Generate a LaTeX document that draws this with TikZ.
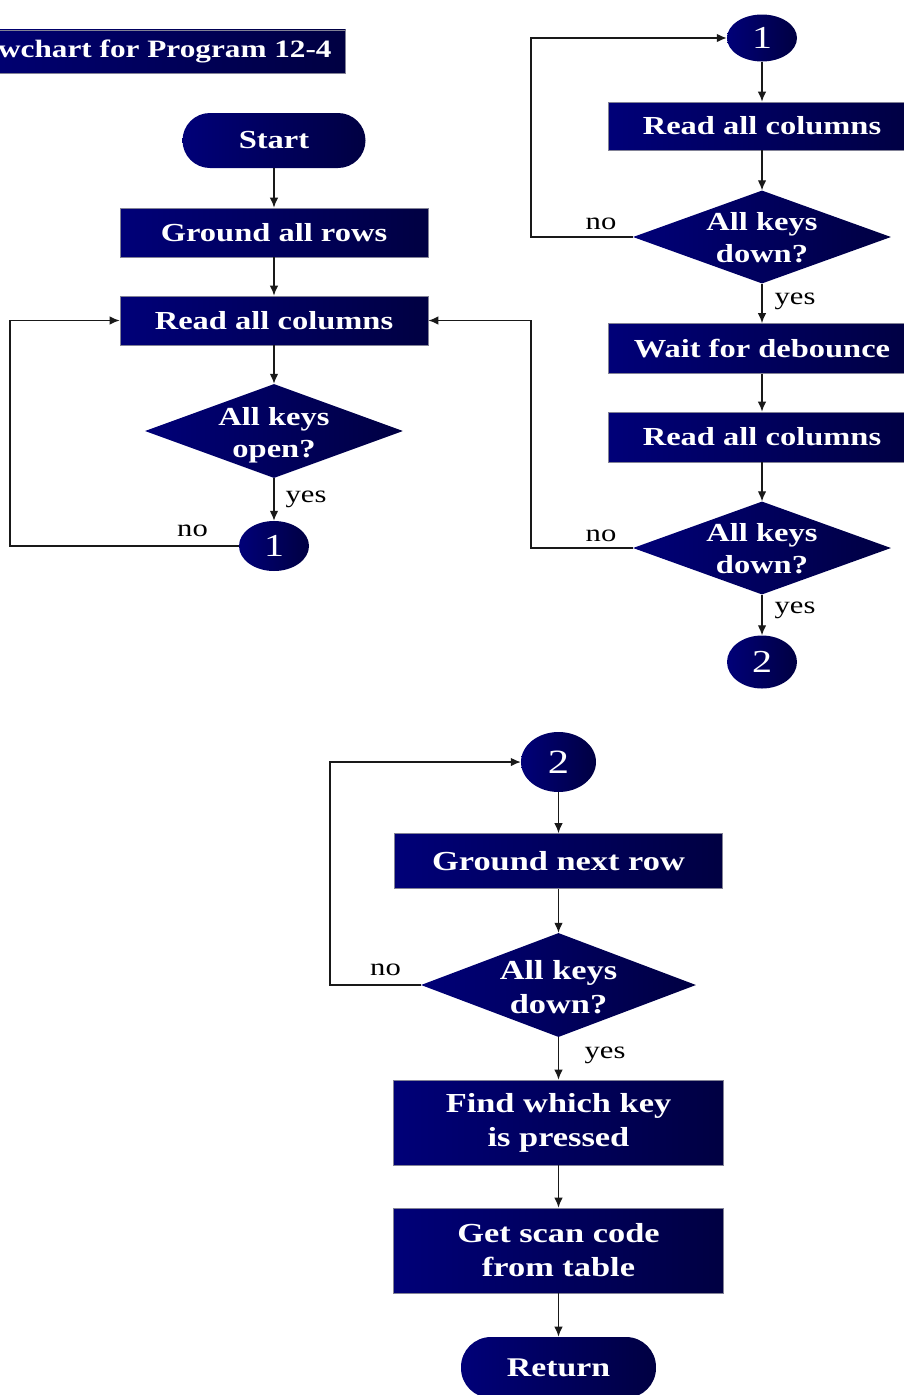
\documentclass[tikz,border=0pt]{standalone}
\usepackage{fontspec}
\setmainfont{Liberation Serif}[FakeStretch=1.25]
\usetikzlibrary{shapes.geometric,arrows.meta}
\definecolor{navyA}{RGB}{0,0,120}
\definecolor{navyB}{RGB}{0,0,66}
\definecolor{edgegrey}{RGB}{130,130,150}
\definecolor{wire}{RGB}{25,25,25}
\tikzset{
  flowfill/.style={left color=navyA, right color=navyB},
  proc/.style={flowfill, draw=edgegrey, line width=0.8pt, inner sep=0pt, text=white,
    align=center, font=\bfseries\fontsize{26}{32}\selectfont},
  procL/.style={proc, font=\bfseries\fontsize{27.5}{34}\selectfont},
  term/.style={proc, draw=none},
  dia/.style={diamond, flowfill, inner sep=0pt},
  diatext/.style={text=white, align=center, inner sep=0pt,
    font=\bfseries\fontsize{26}{32}\selectfont},
  conn/.style={ellipse, flowfill, inner sep=0pt, text=white,
    font=\fontsize{32}{32}\selectfont},
  lbl/.style={anchor=base, inner sep=0pt, font=\fontsize{24.5}{26}\selectfont, text=black},
  flow/.style={draw=wire, line width=1.3pt, -{Latex[length=10pt,width=8.5pt]}},
}
\begin{document}
\begin{tikzpicture}[x=1pt,y=-1pt]
\useasboundingbox (0,0) rectangle (904,1395);
\clip (0,0) rectangle (904,1395);

% title banner
\node[proc, anchor=east, minimum height=43.5pt, inner xsep=14pt,
  font=\bfseries\fontsize{25}{30}\selectfont] (title) at (346,51.7) {Flowchart for Program 12-4};

% ---- left column: wait for all keys released
\node[term, rounded corners=27.5pt, minimum width=183pt, minimum height=55pt] (start) at (274,140.5) {Start};
\node[proc, minimum width=308pt, minimum height=49pt] (gar) at (274,232.5) {Ground all rows};
\node[proc, minimum width=308pt, minimum height=49pt] (rac1) at (274,320.5) {Read all columns};
\node[dia, minimum width=258pt, minimum height=94pt] (dk1) at (274,431) {};
\node[diatext] (dk1t) at ([yshift=-4pt]dk1.center) {All keys\\open?};
\node[conn, minimum width=70pt, minimum height=50pt] (c1a) at (274,546) {1};
\coordinate (L1) at (10,546);

% ---- right column: wait for a key press, debounce
\node[conn, minimum width=70pt, minimum height=47pt] (c1b) at (762,38) {1};
\node[proc, minimum width=308pt, minimum height=48pt] (rac2) at (762,126) {Read all columns};
\node[dia, minimum width=258pt, minimum height=93pt] (dk2) at (762,237) {};
\node[diatext] (dk2t) at ([yshift=-1pt]dk2.center) {All keys\\down?};
\node[proc, minimum width=308pt, minimum height=50pt] (wfd) at (762,348.5) {Wait for debounce};
\node[proc, minimum width=308pt, minimum height=50pt] (rac3) at (762,437) {Read all columns};
\node[dia, minimum width=258pt, minimum height=93pt] (dk3) at (762,548) {};
\node[diatext] (dk3t) at ([yshift=-1pt]dk3.center) {All keys\\down?};
\node[conn, minimum width=70pt, minimum height=53pt] (c2a) at (762,662) {2};
\coordinate (R1) at (531,237);
\coordinate (R2) at (531,548);

% ---- bottom: find the pressed key
\node[conn, minimum width=75pt, minimum height=60pt, font=\fontsize{34}{34}\selectfont] (c2b) at (558.5,762) {2};
\node[procL, minimum width=328pt, minimum height=55pt] (gnr) at (558.5,861) {Ground next row};
\node[dia, minimum width=275pt, minimum height=104pt] (dk4) at (558.5,985) {};
\node[diatext, font=\bfseries\fontsize{27.5}{34}\selectfont] (dk4t) at ([yshift=-2pt]dk4.center) {All keys\\down?};
\node[procL, minimum width=330pt, minimum height=85pt] (fwk) at (558.5,1122.5) {Find which key\\is pressed};
\node[procL, minimum width=330pt, minimum height=85pt] (gsc) at (558.5,1250.5) {Get scan code\\from table};
\node[term, rounded corners=30pt, minimum width=195pt, minimum height=61pt,
  font=\bfseries\fontsize{27}{32}\selectfont] (ret) at (558.5,1367.5) {Return};
\coordinate (B1) at (330,985);

% connectors
\draw[flow] (start) -- (gar);
\draw[flow] (gar) -- (rac1);
\draw[flow] (rac1) -- (dk1);
\draw[flow] (dk1) -- (c1a);
\draw[flow] (c1a.west) -- (L1) |- (rac1.west);

\draw[flow] (c1b) -- (rac2);
\draw[flow] (rac2) -- (dk2);
\draw[flow] (dk2) -- (wfd);
\draw[flow] (wfd) -- (rac3);
\draw[flow] (rac3) -- (dk3);
\draw[flow] (dk3) -- (c2a);
\draw[flow] (dk2.west) -- (R1) |- (c1b.west);
\draw[flow] (dk3.west) -- (R2) |- (rac1.east);

\draw[flow] (c2b) -- (gnr);
\draw[flow] (gnr) -- (dk4);
\draw[flow] (dk4) -- (fwk);
\draw[flow] (fwk) -- (gsc);
\draw[flow] (gsc) -- (ret);
\draw[flow] (dk4.west) -- (B1) |- (c2b.west);

% branch labels
\node[lbl] (yes1) at (306,502.5) {yes};
\node[lbl] (no1) at (192.5,536.5) {no};
\node[lbl] (no2) at (601,229) {no};
\node[lbl] (yes2) at (795,304) {yes};
\node[lbl] (no3) at (601,541.5) {no};
\node[lbl] (yes3) at (795,613) {yes};
\node[lbl] (no4) at (385.5,975) {no};
\node[lbl] (yes4) at (605,1058) {yes};
\end{tikzpicture}
\end{document}
